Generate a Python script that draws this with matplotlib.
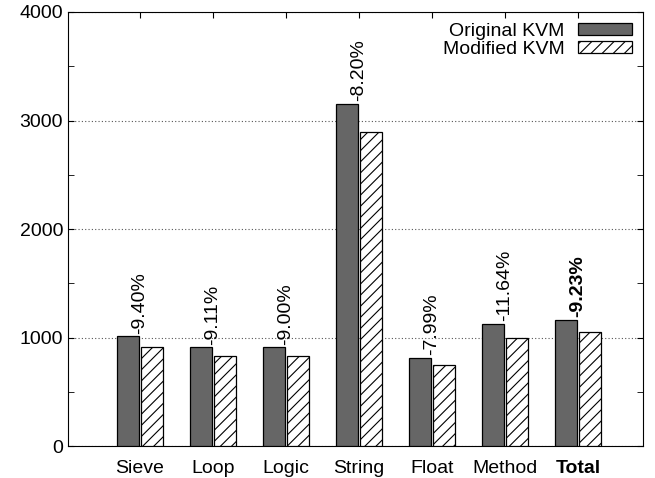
import matplotlib
matplotlib.use("Agg")
import matplotlib.pyplot as plt
import numpy as np
from matplotlib.ticker import MultipleLocator

plt.rcParams['font.family'] = ['Liberation Sans', 'DejaVu Sans']
plt.rcParams['hatch.linewidth'] = 0.8

# 数据
categories = ["Sieve", "Loop", "Logic", "String", "Float", "Method", "Total"]
original = [1010, 910, 910, 3152, 815, 1124, 1161]
modified = [915, 827, 828, 2894, 750, 993, 1054]
changes = ["-9.40%", "-9.11%", "-9.00%", "-8.20%", "-7.99%", "-11.64%", "-9.23%"]

fig = plt.figure(figsize=(6.55, 4.78), dpi=100)
ax = fig.add_axes([0.1038, 0.0669, 0.8779, 0.908])

x = np.arange(1, len(categories) + 1)
w = 0.31
ax.bar(x - w / 2 - 0.01, original, w, color="#666666", edgecolor="black", linewidth=0.9,
       label="Original KVM", zorder=3)
ax.bar(x + w / 2 + 0.01, modified, w, color="white", edgecolor="black", linewidth=0.9,
       hatch="///", label="Modified KVM", zorder=3)

# 百分比标签
for i, (xi, v, t) in enumerate(zip(x, original, changes)):
    ax.text(xi, v + 25, t, rotation=90, ha="center", va="bottom", fontsize=14,
            fontweight="bold" if categories[i] == "Total" else "normal")

ax.set_xlim(0.015, 7.89)
ax.set_ylim(0, 4000)
ax.set_xticks(x)
ax.set_xticklabels(categories, fontsize=14)
ax.get_xticklabels()[-1].set_fontweight("bold")
ax.yaxis.set_major_locator(MultipleLocator(1000))
ax.yaxis.set_minor_locator(MultipleLocator(500))
ax.tick_params(axis="y", which="both", direction="in", right=True, labelsize=14, length=4)
ax.tick_params(axis="x", which="both", direction="in", bottom=False, top=True, length=4, pad=10)
ax.grid(axis="y", linestyle=(0, (1, 2)), color="#555555", linewidth=0.8, zorder=0)

ax.legend(loc="upper right", frameon=False, markerfirst=False, fontsize=14,
          handlelength=2.8, handleheight=0.55, labelspacing=0.05, borderaxespad=0.15,
          handletextpad=0.7)

plt.savefig("out.png", dpi=100)
